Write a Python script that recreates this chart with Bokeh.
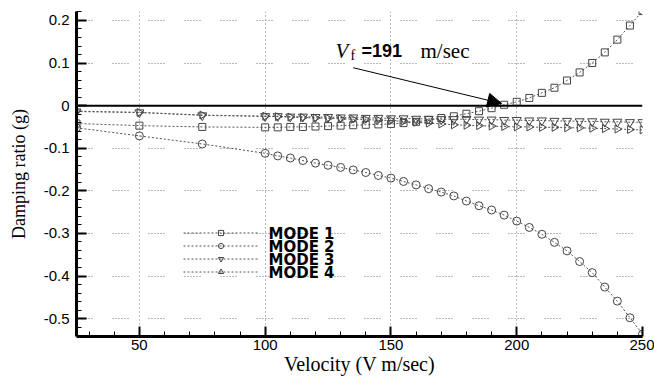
import math
from bokeh.plotting import figure
from bokeh.models import (Range1d, FixedTicker, Span, Label, Arrow, NormalHead,
                          Legend, LegendItem, ColumnDataSource)
from bokeh.embed import file_html
from bokeh.resources import INLINE

# ---------------- data ----------------
velocity = [25, 50, 75, 100, 105, 110, 115, 120, 125, 130, 135, 140, 145, 150,
            155, 160, 165, 170, 175, 180, 185, 190, 195, 200, 205, 210, 215,
            220, 225, 230, 235, 240, 245, 250]

mode1 = [-0.042, -0.047, -0.050, -0.051, -0.051, -0.050, -0.050, -0.049, -0.048,
         -0.047, -0.046, -0.045, -0.044, -0.043, -0.041, -0.038, -0.034, -0.029,
         -0.025, -0.019, -0.013, -0.006, 0.002, 0.009, 0.018, 0.030, 0.042,
         0.059, 0.078, 0.100, 0.125, 0.155, 0.188, 0.222]

mode2 = [-0.052, -0.071, -0.090, -0.112, -0.118, -0.123, -0.129, -0.135, -0.140,
         -0.145, -0.151, -0.157, -0.164, -0.170, -0.178, -0.186, -0.195, -0.203,
         -0.212, -0.224, -0.235, -0.245, -0.257, -0.271, -0.286, -0.302, -0.321,
         -0.341, -0.366, -0.392, -0.426, -0.459, -0.498, -0.536]

mode3 = [-0.014, -0.016, -0.023, -0.025, -0.025, -0.026, -0.026, -0.027, -0.027,
         -0.028, -0.028, -0.029, -0.029, -0.030, -0.030, -0.031, -0.031, -0.032,
         -0.032, -0.032, -0.033, -0.033, -0.034, -0.034, -0.035, -0.035, -0.036,
         -0.036, -0.037, -0.037, -0.038, -0.038, -0.039, -0.039]

mode4 = [-0.013, -0.016, -0.022, -0.025, -0.026, -0.027, -0.028, -0.029, -0.030,
         -0.031, -0.032, -0.033, -0.034, -0.035, -0.037, -0.039, -0.041, -0.043,
         -0.045, -0.046, -0.047, -0.048, -0.049, -0.050, -0.050, -0.051, -0.051,
         -0.052, -0.052, -0.053, -0.054, -0.055, -0.056, -0.057]

mode_names = ["MODE 1", "MODE 2", "MODE 3", "MODE 4"]

x_ticks = [50, 100, 150, 200, 250]
y_ticks = [-0.5, -0.4, -0.3, -0.2, -0.1, 0, 0.1, 0.2]
y_tick_labels = ["-0.5", "-0.4", "-0.3", "-0.2", "-0.1", "0", "0.1", "0.2"]

x_title = "Velocity (V m/sec)"
y_title = "Damping ratio (g)"

flutter_speed = 191
arrow_start = (135, 0.089)
arrow_end = (194, 0.005)

# ---------------- figure ----------------
p = figure(width=654, height=379, x_range=Range1d(25, 250),
           y_range=Range1d(-0.542, 0.221), output_backend="svg",
           toolbar_location=None, min_border_left=76, min_border_right=12,
           min_border_top=11, min_border_bottom=43)
p.outline_line_color = None
p.background_fill_color = "white"

x_minor = [v for v in range(30, 250, 10) if v % 50 != 0]
y_minor = [round(-0.54 + 0.02 * i, 2) for i in range(39)]

p.xaxis.ticker = FixedTicker(ticks=x_ticks, minor_ticks=x_minor)
p.yaxis.ticker = FixedTicker(ticks=y_ticks, minor_ticks=y_minor)
p.yaxis.major_label_overrides = dict(zip(y_ticks, y_tick_labels))

for ax in (p.xaxis[0], p.yaxis[0]):
    ax.axis_line_width = 3
    ax.axis_line_color = "black"
    ax.major_tick_in = 10
    ax.major_tick_out = 0
    ax.major_tick_line_width = 2
    ax.major_tick_line_color = "black"
    ax.minor_tick_in = 5
    ax.minor_tick_out = 0
    ax.minor_tick_line_width = 1
    ax.minor_tick_line_color = "black"
    ax.major_label_text_font = "Liberation Sans"
    ax.major_label_text_font_size = "15px"
    ax.major_label_text_color = "black"
    ax.axis_label_text_font = "Liberation Serif"
    ax.axis_label_text_font_style = "normal"
    ax.axis_label_text_color = "black"

p.xaxis.major_label_standoff = 3
p.yaxis.major_label_standoff = 7
p.xaxis.axis_label = x_title
p.xaxis.axis_label_text_font_size = "20px"
p.xaxis.axis_label_standoff = 0
p.yaxis.axis_label = y_title
p.yaxis.axis_label_text_font_size = "18px"
p.yaxis.axis_label_standoff = 12

p.xgrid.ticker = FixedTicker(ticks=x_ticks)
p.xgrid.grid_line_color = "#777777"
p.xgrid.grid_line_dash = "1 3"
p.ygrid.ticker = FixedTicker(ticks=y_ticks)
p.ygrid.grid_line_color = "#777777"
p.ygrid.grid_line_dash = "1 2 1 2 1 2 1 2 1 2 1 20"

# zero line
p.add_layout(Span(location=0, dimension="width", line_color="black",
                  line_width=2))

# ---------------- series ----------------
series = [mode1, mode2, mode3, mode4]
markers = [("square", 0.0, 7), ("circle", 0.0, 8),
           ("inverted_triangle", 0.0, 9), ("triangle", -math.pi / 2, 8)]
items = []
for name, ys, (mk, ang, sz) in zip(mode_names, series, markers):
    src = ColumnDataSource(dict(x=velocity, y=ys, a=[ang] * len(velocity)))
    ln = p.line("x", "y", source=src, line_color="#555555", line_dash="2 2",
                line_width=1)
    sc = p.scatter("x", "y", source=src, marker=mk, angle="a", size=sz,
                   fill_alpha=0, line_color="#444444", line_width=1)
    items.append(LegendItem(label=" ", renderers=[ln, sc], index=0))

# legend glyph samples (labels drawn separately for tighter rows)
legend_bottom = 58
row_h = 13
legend = Legend(items=items, location=(107, legend_bottom),
                orientation="vertical", glyph_width=75, glyph_height=row_h,
                label_height=row_h, spacing=0, padding=0, margin=0,
                label_standoff=0, label_width=0,
                background_fill_alpha=0, border_line_alpha=0,
                label_text_font_size="1px")
p.add_layout(legend)

def lab(text, x, y, font, size, style="normal"):
    p.add_layout(Label(text=text, x=x, y=y, x_units="screen",
                       y_units="screen", text_font=font,
                       text_font_size=size, text_font_style=style,
                       text_align="left", text_baseline="alphabetic",
                       text_color="black"))

for i, name in enumerate(mode_names):
    row_center = legend_bottom + row_h * (len(mode_names) - i - 0.5)
    lab(name, 192, row_center - 0.5, "DejaVu Sans", "15px", "bold")

# ---------------- annotation ----------------
p.add_layout(Arrow(end=NormalHead(size=14, fill_color="black",
                                  line_color="black"),
                   x_start=arrow_start[0], y_start=arrow_start[1],
                   x_end=arrow_end[0], y_end=arrow_end[1],
                   line_color="black", line_width=1))

lab("V", 259, 286, "Liberation Serif", "21px", "italic")
lab("f", 274, 281, "Liberation Serif", "14px")
lab("=" + str(flutter_speed), 285, 286, "Liberation Sans", "18px", "bold")
lab("m/sec", 344, 286, "Liberation Serif", "21px")

open("out.html", "w").write(file_html(p, INLINE))
